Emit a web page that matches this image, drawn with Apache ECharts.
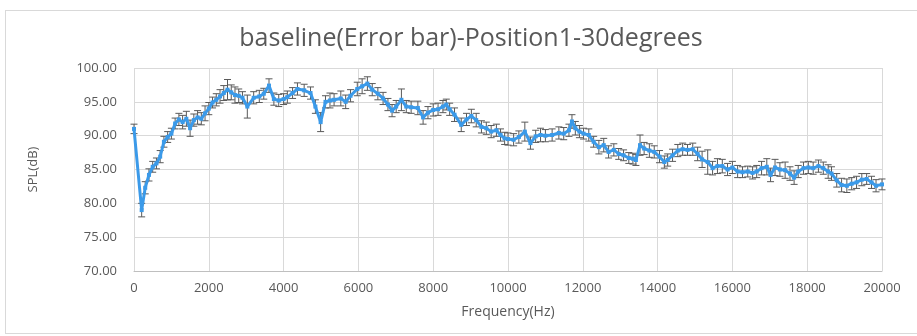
<!DOCTYPE html>
<html>
<head>
<meta charset="utf-8">
<script src="https://cdn.jsdelivr.net/npm/echarts@6/dist/echarts.min.js"></script>
<style>
  html, body { margin: 0; padding: 0; background: #fff; }
  #frame { position: absolute; left: 5px; top: 10px; width: 920px; height: 322px; border: 1px solid #d9d9d9; }
  #chart { position: absolute; left: 0; top: 0; width: 917px; height: 336px; }
</style>
</head>
<body>
<div id="frame"></div>
<div id="chart"></div>
<script>
// frequency (Hz)
const freqs = [
  0, 205, 300, 400, 500, 600, 700, 800, 900, 1000,
  1100, 1200, 1300, 1400, 1500, 1600, 1700, 1800, 1900, 2000,
  2100, 2200, 2300, 2400, 2500, 2600, 2700, 2800, 2900, 3030,
  3200, 3350, 3470, 3610, 3740, 3870, 4000, 4100, 4240, 4370,
  4550, 4720, 4850, 4990, 5120, 5240, 5350, 5530, 5660, 5790,
  5970, 6100, 6240, 6370, 6520, 6660, 6790, 6900, 7010, 7150,
  7280, 7410, 7590, 7730, 7860, 8000, 8130, 8260, 8350, 8440,
  8570, 8750, 8890, 9020, 9150, 9290, 9420, 9550, 9690, 9800,
  9910, 10000, 10150, 10290, 10450, 10600, 10740, 10870, 11000, 11180,
  11360, 11490, 11630, 11710, 11800, 11910, 12020, 12160, 12290, 12430,
  12560, 12690, 12830, 12960, 13090, 13230, 13340, 13420, 13530, 13640,
  13780, 13910, 14050, 14180, 14270, 14400, 14540, 14670, 14800, 14940,
  15070, 15190, 15340, 15470, 15600, 15730, 15870, 16000, 16140, 16270,
  16410, 16540, 16650, 16780, 16920, 17020, 17140, 17270, 17410, 17540,
  17650, 17760, 17900, 18030, 18160, 18300, 18430, 18560, 18650, 18790,
  18920, 19060, 19190, 19320, 19460, 19590, 19720, 19840, 20000
];
// mean SPL (dB)
const spl = [
  91.0, 79.0, 82.3, 84.2, 85.4, 85.9, 86.9, 89.1, 89.8, 90.3,
  91.8, 92.4, 92.0, 92.5, 91.1, 92.3, 92.7, 92.5, 93.3, 94.0,
  94.9, 95.3, 95.8, 96.3, 96.8, 96.4, 96.0, 95.9, 95.6, 94.3,
  95.6, 95.8, 96.2, 97.4, 95.4, 95.2, 95.4, 95.7, 96.3, 96.9,
  96.7, 96.3, 94.3, 92.0, 95.0, 95.2, 95.3, 95.5, 95.0, 95.9,
  96.9, 97.3, 97.7, 96.8, 96.2, 95.5, 94.6, 93.7, 94.3, 95.3,
  94.3, 94.2, 94.1, 92.7, 93.4, 93.8, 93.9, 94.3, 94.6, 93.9,
  93.1, 91.6, 92.4, 92.9, 92.3, 91.3, 91.1, 90.6, 90.8, 90.1,
  89.6, 89.5, 89.4, 89.8, 90.6, 88.9, 89.9, 90.1, 90.0, 90.1,
  90.4, 90.3, 90.8, 92.1, 91.1, 90.6, 90.3, 90.1, 89.1, 88.3,
  88.6, 87.6, 87.9, 87.3, 87.1, 86.7, 86.6, 86.4, 88.6, 88.1,
  87.8, 87.6, 86.9, 86.1, 86.4, 87.1, 87.8, 88.0, 87.9, 88.0,
  87.3, 86.5, 86.1, 85.2, 85.5, 85.5, 85.0, 85.3, 84.7, 84.6,
  84.7, 84.5, 84.7, 85.2, 85.4, 84.2, 85.3, 85.0, 84.9, 84.4,
  83.8, 84.7, 85.2, 85.3, 85.2, 85.5, 85.2, 84.7, 84.4, 83.4,
  82.7, 82.6, 82.9, 83.1, 83.5, 83.6, 83.1, 82.6, 82.8
];
// half length of error bar (dB)
const errs = [
  0.7, 1.0, 0.9, 0.9, 0.8, 0.8, 0.9, 0.8, 0.8, 0.8,
  0.8, 0.9, 1.0, 1.1, 1.2, 0.9, 1.0, 0.9, 1.1, 0.9,
  0.8, 0.9, 1.0, 1.1, 1.5, 1.1, 1.2, 1.0, 0.9, 1.7,
  0.9, 0.9, 0.8, 1.0, 0.9, 0.9, 0.8, 0.9, 0.8, 0.9,
  0.9, 0.9, 1.0, 1.4, 0.9, 1.1, 0.9, 1.1, 1.0, 0.9,
  1.0, 1.1, 1.0, 0.9, 0.9, 0.9, 0.9, 0.9, 0.9, 1.6,
  0.9, 0.9, 1.0, 1.0, 0.9, 0.9, 0.9, 0.9, 0.8, 0.9,
  1.0, 1.0, 0.9, 1.0, 1.0, 0.9, 0.9, 0.9, 0.9, 0.9,
  0.9, 0.9, 0.9, 0.9, 1.4, 0.9, 0.9, 1.0, 0.9, 0.9,
  0.9, 0.9, 0.9, 1.0, 1.0, 0.9, 0.8, 0.9, 0.8, 1.0,
  1.0, 0.9, 0.9, 0.8, 0.8, 0.8, 0.8, 0.8, 1.5, 0.9,
  1.0, 0.9, 0.9, 0.9, 0.9, 0.9, 0.9, 0.9, 0.8, 0.9,
  1.0, 1.2, 1.8, 1.0, 1.1, 1.0, 0.9, 0.9, 0.9, 0.8,
  0.8, 0.9, 0.9, 1.0, 1.2, 1.0, 1.2, 1.0, 1.2, 1.0,
  1.0, 0.9, 0.9, 0.9, 0.9, 0.9, 0.9, 1.0, 1.0, 1.0,
  1.0, 1.0, 0.9, 0.9, 0.9, 0.8, 0.9, 0.9, 0.8
];

const chart = echarts.init(document.getElementById('chart'));

const lineData = freqs.map((f, i) => [f, spl[i]]);
const barData = freqs.map((f, i) => [f, spl[i] - errs[i], spl[i] + errs[i]]);

const txt = '#595959';
const font = "'Open Sans', 'Liberation Sans', sans-serif";

chart.setOption({
  animation: false,
  title: {
    text: 'baseline(Error bar)-Position1-30degrees',
    left: 466,
    top: 21,
    textAlign: 'center',
    textStyle: { color: txt, fontSize: 25, fontWeight: 'normal', fontFamily: font }
  },
  grid: { left: 134, right: 35, top: 68, bottom: 65, containLabel: false },
  xAxis: {
    type: 'value',
    min: 0,
    max: 20000,
    interval: 2000,
    name: 'Frequency(Hz)',
    nameLocation: 'middle',
    nameGap: 34,
    nameTextStyle: { color: txt, fontSize: 14, fontFamily: font },
    axisLine: { show: true, lineStyle: { color: '#bfbfbf', width: 1 } },
    axisTick: { show: false },
    axisLabel: { color: txt, fontSize: 13, fontFamily: font, margin: 11, formatter: v => String(v) },
    splitLine: { show: true, lineStyle: { color: '#d9d9d9', width: 1 } }
  },
  yAxis: {
    type: 'value',
    min: 70,
    max: 100,
    interval: 5,
    name: 'SPL(dB)',
    nameLocation: 'middle',
    nameGap: 94,
    nameRotate: 90,
    nameTextStyle: { color: txt, fontSize: 13, fontFamily: font },
    axisLine: { show: false },
    axisTick: { show: false },
    axisLabel: { color: txt, fontSize: 13, fontFamily: font, margin: 17, formatter: v => v.toFixed(2) },
    splitLine: { show: true, lineStyle: { color: '#d9d9d9', width: 1 } }
  },
  series: [
    {
      type: 'custom',
      name: 'error',
      z: 2,
      data: barData,
      encode: { x: 0, y: [1, 2] },
      renderItem: (params, api) => {
        const x = api.value(0);
        const lo = api.coord([x, api.value(1)]);
        const hi = api.coord([x, api.value(2)]);
        const hw = 3.5;
        const style = { stroke: '#595959', lineWidth: 1 };
        return {
          type: 'group',
          children: [
            { type: 'line', shape: { x1: lo[0], y1: lo[1], x2: hi[0], y2: hi[1] }, style },
            { type: 'line', shape: { x1: lo[0] - hw, y1: lo[1], x2: lo[0] + hw, y2: lo[1] }, style },
            { type: 'line', shape: { x1: hi[0] - hw, y1: hi[1], x2: hi[0] + hw, y2: hi[1] }, style }
          ]
        };
      }
    },
    {
      type: 'line',
      name: 'SPL',
      z: 3,
      data: lineData,
      symbol: 'rect',
      symbolSize: 4,
      showSymbol: true,
      lineStyle: { color: '#3b9ae9', width: 3 },
      itemStyle: { color: '#3b9ae9' }
    }
  ]
});
</script>
</body>
</html>
